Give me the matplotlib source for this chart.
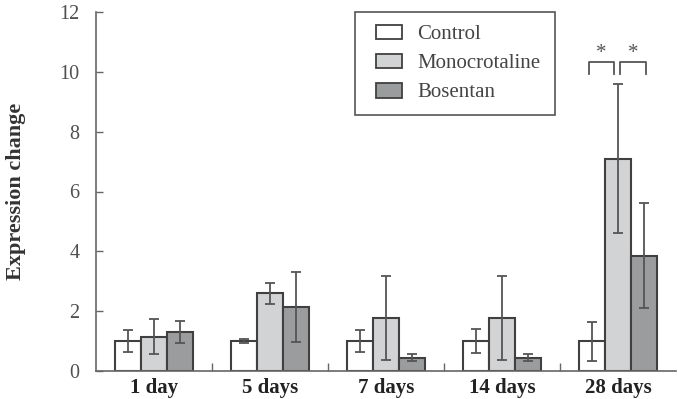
import matplotlib
matplotlib.use("Agg")
import matplotlib.pyplot as plt
import numpy as np
from matplotlib.patches import Patch, Rectangle

categories = ["1 day", "5 days", "7 days", "14 days", "28 days"]
series = ["Control", "Monocrotaline", "Bosentan"]
control = [1.0, 1.0, 1.0, 1.0, 1.0]
control_err = [0.38, 0.07, 0.38, 0.4, 0.65]
mono = [1.15, 2.6, 1.78, 1.78, 7.1]
mono_err = [0.58, 0.35, 1.4, 1.4, 2.5]
bos = [1.3, 2.13, 0.45, 0.45, 3.85]
bos_err = [0.38, 1.17, 0.13, 0.13, 1.75]
y_ticks = [0, 2, 4, 6, 8, 10, 12]

colors = ["#ffffff", "#d2d3d5", "#9b9c9e"]
edge = "#404040"

plt.rcParams['font.family'] = ['Liberation Serif', 'DejaVu Serif']

fig = plt.figure(figsize=(6.78, 3.99), dpi=100)
ax = fig.add_axes([96/678, 1-371/399, 580/678, 359/399])

x = np.arange(len(categories))
w = 0.222
for i, (vals, errs) in enumerate([(control, control_err), (mono, mono_err), (bos, bos_err)]):
    ax.bar(x + (i-1)*w, vals, width=w, color=colors[i], edgecolor=edge, linewidth=1.5, zorder=2)
    ax.errorbar(x + (i-1)*w, vals, yerr=errs, fmt='none', ecolor="#555555",
                elinewidth=1.3, capsize=3.5, capthick=1.3, zorder=3)

ax.set_xlim(-0.5, 4.5)
ax.set_ylim(0, 12)
ax.set_yticks(y_ticks)
ax.set_yticklabels([str(t) for t in y_ticks], fontsize=14.5, color="#505050")
ax.tick_params(axis='y', direction='in', length=5, width=1, color="#666666", pad=12)
ax.set_xticks(x)
ax.set_xticklabels(categories, fontsize=15, fontweight='bold', color="#222222")
ax.tick_params(axis='x', which='major', length=0, pad=5)
ax.set_xticks([0.5, 1.5, 2.5, 3.5], minor=True)
ax.tick_params(axis='x', which='minor', direction='in', length=6, width=1, color="#666666")
for s in ['top', 'right']:
    ax.spines[s].set_visible(False)
for s in ['left', 'bottom']:
    ax.spines[s].set_color("#666666")
    ax.spines[s].set_linewidth(1.2)
ax.set_ylabel("Expression change", fontsize=16, fontweight='bold', color="#333333")
ax.yaxis.set_label_coords(-70/580, 0.5)

# significance brackets
bk = dict(color="#555555", lw=1.3)
yb, yl = 10.33, 9.93
lx = [4 - w - 0.03, 4 - 0.035]
rx = [4 + 0.017, 4 + w + 0.017]
for (a, b) in [lx, rx]:
    ax.plot([a, a, b, b], [yl, yb, yb, yl], **bk, zorder=3)
    ax.text((a+b)/2, 10.62, "*", ha='center', va='center', fontsize=15, color="#555555")

# legend
handles = [Patch(facecolor=c, edgecolor=edge, linewidth=1.3) for c in colors]
leg = fig.legend(handles, series, loc='upper left', bbox_to_anchor=(376/678, 1-24.5/399),
                 fontsize=15, frameon=False, borderpad=0, borderaxespad=0,
                 handlelength=1.25, handleheight=0.72, labelspacing=0.45,
                 handletextpad=0.72)
for t in leg.get_texts():
    t.set_color("#444444")
fig.patches.append(Rectangle((355/678, 1-115/399), 200/678, 103/399,
                             transform=fig.transFigure, fill=False,
                             edgecolor="#555555", linewidth=1.2))

fig.savefig("out.png", dpi=100)
